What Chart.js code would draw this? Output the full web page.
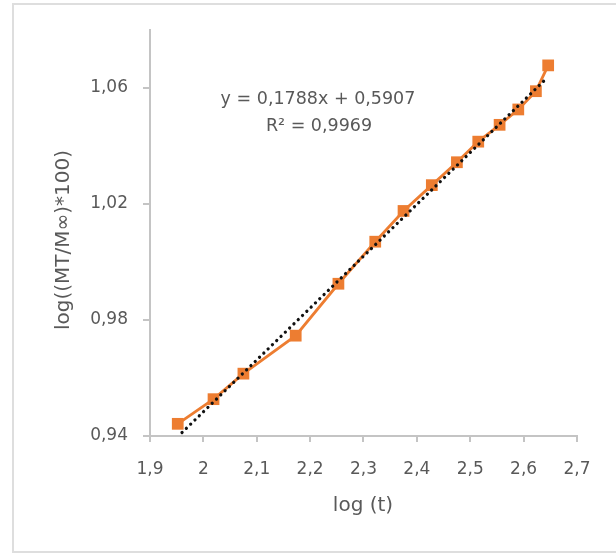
<!DOCTYPE html>
<html>
<head>
<meta charset="utf-8">
<script src="https://cdn.jsdelivr.net/npm/chart.js@4.4.1/dist/chart.umd.min.js"></script>
<style>
  html, body { margin: 0; padding: 0; background: #fff; }
  #frame { position: absolute; left: 12px; top: 3px; width: 620px; height: 546px;
           border: 2px solid #dedede; border-right: none; }
  #wrap { position: absolute; left: 0; top: 0; width: 616px; height: 553px; }
</style>
</head>
<body>
<div id="frame"></div>
<div id="wrap"><canvas id="chart" width="616" height="553"></canvas></div>
<script>
// measured points: log(t) vs log((MT/Minf)*100)
const logT = [1.952, 2.019, 2.075, 2.173, 2.253, 2.322, 2.375, 2.428, 2.475, 2.515, 2.555, 2.590, 2.623, 2.646];
const logM = [0.9442, 0.9527, 0.9615, 0.9746, 0.9925, 1.0070, 1.0176, 1.0265, 1.0344, 1.0415, 1.0473, 1.0526, 1.0589, 1.0678];

// linear trendline ends, as drawn
const trendX = [1.960, 2.645];
const trendY = [0.9412, 1.0637];

const xTickValues = [1.9, 2.0, 2.1, 2.2, 2.3, 2.4, 2.5, 2.6, 2.7];
const xTickLabels = ['1,9', '2', '2,1', '2,2', '2,3', '2,4', '2,5', '2,6', '2,7'];
const yTickValues = [0.94, 0.98, 1.02, 1.06];
const yTickLabels = ['0,94', '0,98', '1,02', '1,06'];

const equationLines = ['y = 0,1788x + 0,5907', 'R\u00B2 = 0,9969'];

const textColor = '#595959';
const axisColor = '#c4c4c4';
const orange = '#ed7d31';

// axis titles + trendline equation
const labelsPlugin = {
  id: 'labels',
  afterDraw(chart) {
    const ctx = chart.ctx;
    ctx.save();
    ctx.fillStyle = textColor;
    ctx.font = '20px "DejaVu Sans"';
    ctx.textAlign = 'center';
    ctx.textBaseline = 'alphabetic';
    ctx.fillText('log (t)', 363, 511);

    ctx.save();
    ctx.translate(69, 240);
    ctx.rotate(-Math.PI / 2);
    ctx.fillText('log((MT/M\u221E)*100)', 0, 0);
    ctx.restore();

    ctx.font = '17.5px "DejaVu Sans"';
    ctx.textBaseline = 'middle';
    ctx.fillText(equationLines[0], 318, 99);
    ctx.fillText(equationLines[1], 319, 126);
    ctx.restore();
  }
};

new Chart(document.getElementById('chart'), {
  type: 'scatter',
  data: {
    datasets: [
      {
        label: 'Linear',
        data: trendX.map((x, i) => ({ x: x, y: trendY[i] })),
        showLine: true,
        borderColor: '#111',
        borderWidth: 3.2,
        borderDash: [0.1, 5.9],
        borderCapStyle: 'round',
        pointRadius: 0,
        order: 0
      },
      {
        label: 'Data',
        data: logT.map((x, i) => ({ x: x, y: logM[i] })),
        showLine: true,
        borderColor: orange,
        borderWidth: 2.8,
        pointStyle: 'rect',
        pointRadius: 8.3,
        pointBackgroundColor: orange,
        pointBorderColor: orange,
        pointBorderWidth: 0,
        order: 1
      }
    ]
  },
  options: {
    responsive: false,
    animation: false,
    layout: { padding: { left: 0, top: 30, right: 39, bottom: 0 } },
    plugins: {
      legend: { display: false },
      tooltip: { enabled: false }
    },
    scales: {
      x: {
        type: 'linear',
        min: 1.9,
        max: 2.7,
        afterBuildTicks: s => { s.ticks = xTickValues.map(v => ({ value: v })); },
        afterFit: s => { s.height = 117; },
        grid: { drawOnChartArea: false, drawTicks: true, tickLength: 6, color: axisColor, lineWidth: 2 },
        border: { color: axisColor, width: 2 },
        ticks: {
          color: textColor,
          font: { family: 'DejaVu Sans', size: 17 },
          padding: 17,
          maxRotation: 0,
          callback: (v, i) => xTickLabels[i]
        }
      },
      y: {
        type: 'linear',
        min: 0.94,
        max: 1.08,
        afterBuildTicks: s => { s.ticks = yTickValues.map(v => ({ value: v })); },
        afterFit: s => { s.width = 150; },
        grid: { drawOnChartArea: false, drawTicks: true, tickLength: 7, color: axisColor, lineWidth: 2 },
        border: { color: axisColor, width: 2 },
        ticks: {
          color: textColor,
          font: { family: 'DejaVu Sans', size: 17 },
          padding: 15,
          callback: (v, i) => yTickLabels[i]
        }
      }
    }
  },
  plugins: [labelsPlugin]
});
</script>
</body>
</html>
